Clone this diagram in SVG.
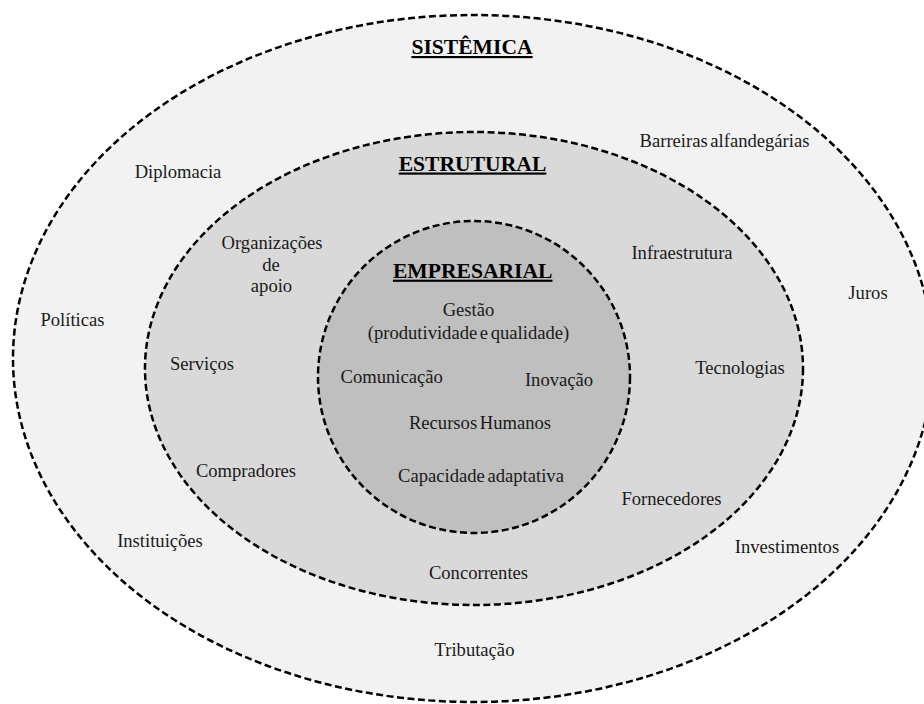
<svg xmlns="http://www.w3.org/2000/svg" width="924" height="704" viewBox="0 0 924 704">
<style>
.ring{stroke:#000;stroke-width:2.5;stroke-dasharray:7 3.5;}
text{font-family:'Liberation Serif','Times New Roman',Times,'DejaVu Serif',serif;}
.lbl{font-size:18.6px;fill:#1a1a1a;text-anchor:middle;word-spacing:-2px;}
.ttl{font-size:21.6px;font-weight:bold;fill:#000;text-anchor:middle;text-decoration:underline;}
</style>
<rect width="924" height="704" fill="#ffffff"/>
<g id="sistemica">
<ellipse class="ring" cx="473" cy="358.5" rx="460" ry="343.5" fill="#f2f2f2"/>
<text class="ttl" x="472" y="54">SISTÊMICA</text>
<text class="lbl" x="724.5" y="146.5">Barreiras alfandegárias</text>
<text class="lbl" x="178" y="178">Diplomacia</text>
<text class="lbl" x="868" y="299">Juros</text>
<text class="lbl" x="72.5" y="326">Políticas</text>
<text class="lbl" x="160" y="547">Instituições</text>
<text class="lbl" x="787" y="552.5">Investimentos</text>
<text class="lbl" x="474.5" y="656">Tributação</text>
</g>
<g id="estrutural">
<ellipse class="ring" cx="474" cy="368.5" rx="329" ry="236.5" fill="#d9d9d9"/>
<text class="ttl" x="472.5" y="170.5">ESTRUTURAL</text>
<text class="lbl" x="272" y="248.5">Organizações</text>
<text class="lbl" x="271" y="270.5">de</text>
<text class="lbl" x="271.5" y="291.5">apoio</text>
<text class="lbl" x="682" y="258.5">Infraestrutura</text>
<text class="lbl" x="202" y="369.5">Serviços</text>
<text class="lbl" x="740" y="373.5">Tecnologias</text>
<text class="lbl" x="246" y="477">Compradores</text>
<text class="lbl" x="671.5" y="505">Fornecedores</text>
<text class="lbl" x="478.5" y="578.5">Concorrentes</text>
</g>
<g id="empresarial">
<circle class="ring" cx="474" cy="377" r="156" fill="#bfbfbf"/>
<text class="ttl" x="472.7" y="277.7">EMPRESARIAL</text>
<text class="lbl" x="468.5" y="316">Gestão</text>
<text class="lbl" x="468.5" y="338.5">(produtividade e qualidade)</text>
<text class="lbl" x="391.7" y="382.7">Comunicação</text>
<text class="lbl" x="559" y="386">Inovação</text>
<text class="lbl" x="480" y="429.3">Recursos Humanos</text>
<text class="lbl" x="481" y="481.7">Capacidade adaptativa</text>
</g>
<g id="connectors"></g>
</svg>
